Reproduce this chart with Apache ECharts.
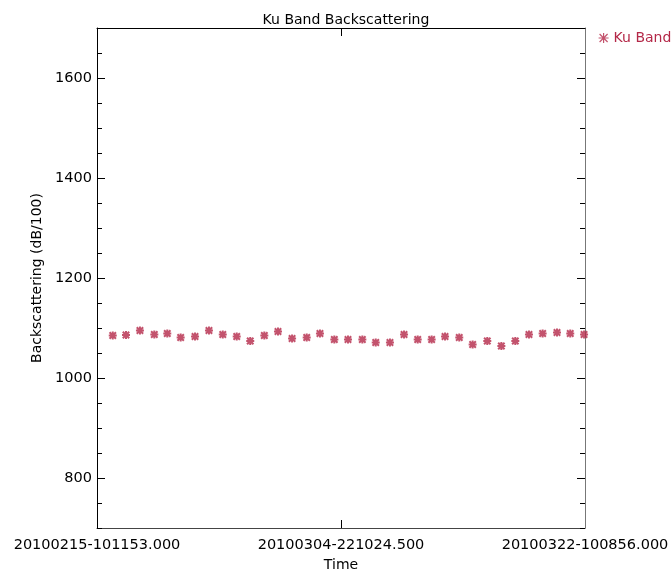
<!DOCTYPE html>
<html>
<head>
<meta charset="utf-8">
<script src="https://cdn.jsdelivr.net/npm/echarts@6/dist/echarts.min.js"></script>
<style>
  html, body { margin: 0; padding: 0; background: #fff; }
  #chart { width: 671px; height: 570px; }
</style>
</head>
<body>
<div id="chart"></div>
<script>
// time span of the x axis (UTC)
const startTime = Date.UTC(2010, 1, 15, 10, 11, 53, 0);
const endTime = Date.UTC(2010, 2, 22, 10, 8, 56, 0);
const midTime = (startTime + endTime) / 2;

// day offsets of each observation from startTime
const dayOffsets = [
	1.13, 2.08, 3.08, 4.11, 5.04, 6.0, 7.03, 8.03, 9.02, 10.02,
	10.99, 12.0, 12.98, 13.99, 15.04, 15.99, 17.02, 18.0, 19.03, 19.99,
	21.01, 22.02, 23.0, 24.0, 24.96, 25.98, 26.94, 27.99, 29.0, 30.0,
	30.98, 31.96, 32.99, 33.94, 34.93,
];
// Ku band backscattering, dB/100
const kuBand = [
	1085, 1086, 1095, 1087, 1089, 1081, 1083, 1095, 1087, 1083,
	1074, 1085, 1093, 1079, 1081, 1089, 1077, 1077, 1077, 1071,
	1071, 1087, 1077, 1077, 1083, 1081, 1067, 1074, 1064, 1074,
	1087, 1089, 1091, 1089, 1087,
];
const yLabels = [800, 1000, 1200, 1400, 1600];

const pad = (n, w) => String(n).padStart(w, '0');
const fmtTime = (v) => {
	const d = new Date(v);
	return (
		d.getUTCFullYear() + pad(d.getUTCMonth() + 1, 2) + pad(d.getUTCDate(), 2) + '-' +
		pad(d.getUTCHours(), 2) + pad(d.getUTCMinutes(), 2) + pad(d.getUTCSeconds(), 2) +
		'.' + pad(d.getUTCMilliseconds(), 3)
	);
};

const markColor = '#b42848';
const star = 'path://M0,0L8,8M8,0L0,8M4,-1L4,9M-1,4L9,4';
const font = 'DejaVu Sans';

let myChart = echarts.init(document.getElementById('chart'), null, { renderer: 'canvas' });

const yBase = { type: 'value', min: 700, max: 1700, splitLine: { show: false } };

let option = {
	animation: false,
	textStyle: { fontFamily: font },
	title: {
		text: 'Ku Band Backscattering',
		left: 341,
		textAlign: 'center',
		top: 8,
		textStyle: { fontSize: 14, fontWeight: 'normal', color: '#000', fontFamily: font },
	},
	legend: {
		left: 593,
		top: 26,
		itemWidth: 10,
		itemHeight: 10,
		itemGap: 4,
		data: [{ name: 'Ku Band', icon: star }],
		itemStyle: { color: 'transparent', borderColor: markColor, borderWidth: 1.2 },
		textStyle: { color: markColor, fontSize: 14, fontFamily: font, padding: [0, 0, 0, 0] },
	},
	grid: { left: 97, right: 86, top: 28, bottom: 42, outerBoundsMode: 'none' },
	xAxis: [
		{
			type: 'value',
			min: startTime,
			max: endTime,
			name: 'Time',
			nameLocation: 'middle',
			nameGap: 29,
			nameTextStyle: { fontSize: 14, color: '#000' },
			axisLine: { lineStyle: { color: '#444', width: 1 } },
			axisTick: { inside: true, length: 8, customValues: [midTime], lineStyle: { color: '#000' } },
			axisLabel: {
				customValues: [startTime, midTime, endTime],
				formatter: fmtTime,
				fontSize: 14.5,
				color: '#000',
				margin: 10,
			},
			splitLine: { show: false },
		},
		{
			type: 'value',
			min: startTime,
			max: endTime,
			position: 'top',
			axisLine: { lineStyle: { color: '#000', width: 1 } },
			axisTick: { inside: true, length: 8, customValues: [midTime], lineStyle: { color: '#000' } },
			axisLabel: { show: false },
			splitLine: { show: false },
		},
	],
	yAxis: [
		Object.assign({}, yBase, {
			position: 'left',
			name: 'Backscattering (dB/100)',
			nameLocation: 'middle',
			nameGap: 49,
			nameTextStyle: { fontSize: 14, color: '#000' },
			axisLine: { show: true, lineStyle: { color: '#000', width: 1 } },
			axisTick: { show: true, inside: true, length: 8, customValues: yLabels, lineStyle: { color: '#000' } },
			axisLabel: { customValues: yLabels, formatter: (v) => String(v), fontSize: 14.5, color: '#000', margin: 5 },
		}),
		Object.assign({}, yBase, {
			position: 'left',
			interval: 50,
			axisLine: { show: false },
			axisTick: { show: true, inside: true, length: 5, lineStyle: { color: '#000' } },
			axisLabel: { show: false },
		}),
		Object.assign({}, yBase, {
			position: 'right',
			axisLine: { show: true, lineStyle: { color: '#777', width: 1 } },
			axisTick: { show: true, inside: true, length: 8, customValues: yLabels, lineStyle: { color: '#000' } },
			axisLabel: { show: false },
		}),
		Object.assign({}, yBase, {
			position: 'right',
			interval: 50,
			axisLine: { show: false },
			axisTick: { show: true, inside: true, length: 5, lineStyle: { color: '#000' } },
			axisLabel: { show: false },
		}),
	],
	series: [
		{
			name: 'Ku Band',
			type: 'scatter',
			symbol: star,
			symbolSize: 8,
			itemStyle: { color: 'transparent', borderColor: markColor, borderWidth: 2 },
			data: dayOffsets.map((d, i) => [startTime + d * 86400000, kuBand[i]]),
		},
	],
};

myChart.setOption(option);
</script>
</body>
</html>
